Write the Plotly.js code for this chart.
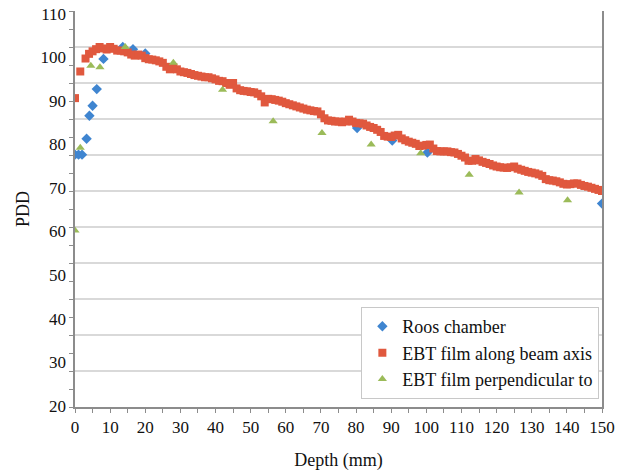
<!DOCTYPE html>
<html><head><meta charset="utf-8">
<script src="https://cdn.plot.ly/plotly-3.0.1.min.js"></script>
<style>html,body{margin:0;padding:0;background:#fff}#chart{width:618px;height:476px}</style>
</head><body><div id="chart"></div>
<script>
// Roos chamber (visible points)
const roosDepth = [0, 1, 2, 3.3, 4.1, 5, 6.2, 8.1, 13.6, 16.5, 20, 80.3, 90.3, 100.3, 150];
const roosPDD   = [70.1, 70.1, 70.1, 74.5, 80.9, 83.7, 88.3, 96.7, 100, 99.4, 98.2, 77.5, 74.0, 70.7, 56.5];

// EBT film along beam axis
const alongDepth = [0, 1.5, 3, 4, 5, 6, 7, 8, 9, 10, 11, 12, 13, 14, 15, 16, 17, 18, 19, 20,
  21, 22, 23, 24, 25, 26, 27, 28, 29, 30, 31, 32, 33, 34, 35, 36, 37, 38, 39, 40,
  41, 42, 43, 44, 45, 46, 47, 48, 49, 50, 51, 52, 53, 54, 55, 56, 57, 58, 59, 60,
  61, 62, 63, 64, 65, 66, 67, 68, 69, 70, 71, 72, 73, 74, 75, 76, 77, 78, 79, 80,
  81, 82, 83, 84, 85, 86, 87, 88, 89, 90, 91, 92, 93, 94, 95, 96, 97, 98, 99, 100,
  101, 102, 103, 104, 105, 106, 107, 108, 109, 110, 111, 112, 113, 114, 115, 116, 117, 118, 119, 120,
  121, 122, 123, 124, 125, 126, 127, 128, 129, 130, 131, 132, 133, 134, 135, 136, 137, 138, 139, 140,
  141, 142, 143, 144, 145, 146, 147, 148, 149, 150];
const alongPDD = [85.8, 93.2, 96.8, 98.1, 98.8, 99.4, 100.0, 99.6, 99.3, 100.0, 99.5, 99.0, 99.0, 98.8, 98.5, 97.9, 97.6, 97.9, 97.6, 96.9,
  96.6, 96.5, 96.3, 96.0, 95.6, 94.5, 93.8, 94.4, 93.8, 93.2, 93.0, 92.8, 92.5, 92.2, 92.0, 91.8, 91.6, 91.6, 91.3, 91.0,
  90.6, 90.5, 90.0, 89.5, 90.0, 88.5, 88.0, 87.8, 87.7, 87.5, 87.4, 87.0, 86.3, 84.6, 85.6, 85.5, 85.3, 85.1, 84.8, 84.4,
  84.1, 83.8, 83.5, 83.2, 82.9, 82.6, 82.4, 82.2, 82.1, 81.3, 80.2, 79.6, 79.5, 79.3, 79.3, 79.1, 79.3, 79.8, 79.3, 78.9,
  78.8, 78.7, 78.2, 77.8, 77.5, 77.0, 76.4, 75.3, 75.1, 75.0, 75.4, 75.6, 74.6, 74.1, 73.7, 73.4, 73.1, 72.5, 72.6, 72.8,
  72.9, 71.8, 71.1, 71.0, 71.0, 71.0, 70.8, 70.7, 70.3, 69.8, 69.3, 68.4, 68.4, 68.9, 68.5, 68.1, 67.8, 67.5, 67.1, 66.8,
  66.6, 66.5, 66.4, 66.6, 66.8, 66.2, 65.9, 65.6, 65.3, 65.1, 64.9, 64.6, 64.2, 63.3, 63.0, 62.9, 62.7, 62.4, 62.0, 61.8,
  61.9, 62.1, 62.1, 61.7, 61.4, 61.2, 60.9, 60.6, 60.3, 60.0];

// EBT film perpendicular to beam axis
const perpDepth = [0, 1.5, 4.5, 7.1, 14.3, 28, 42, 56.4, 70.3, 84.3, 98.4, 112.2, 126.4, 140.2];
const perpPDD   = [49.0, 72.0, 94.8, 94.4, 100.0, 95.6, 88.1, 79.4, 76.1, 72.9, 70.5, 64.5, 59.6, 57.4];

// tick labels as printed on the figure
const xTickVals = [0, 10, 20, 30, 40, 50, 60, 70, 80, 90, 100, 110, 120, 130, 140, 150];
const yLabelVals = [20, 30, 40, 50, 60, 70, 80, 90, 100, 110];
const yLabelText = ['20', '30', '40', '50', '60', '70', '80', '90', '100', '110'];

const AX = '#8c8c8c';
const FONT = 'Liberation Serif, Times New Roman, serif';
const TXT = {family: FONT, size: 17, color: '#111'};
const TXT18 = {family: FONT, size: 18, color: '#111'};

const traces = [
  {x: roosDepth, y: roosPDD, name: 'Roos chamber', type: 'scatter', mode: 'markers',
   marker: {symbol: 'diamond', size: 8, color: '#3f85d0'}},
  {x: alongDepth, y: alongPDD, name: 'EBT film along beam axis', type: 'scatter', mode: 'markers',
   marker: {symbol: 'square', size: 8, color: '#e0583e'}},
  {x: perpDepth, y: perpPDD, name: 'EBT film perpendicular to', type: 'scatter', mode: 'markers',
   marker: {symbol: 'triangle-up', size: 8, color: '#9bbb59'}},
  {x: [], y: [], yaxis: 'y2', type: 'scatter', mode: 'markers', showlegend: false, hoverinfo: 'skip'}
];

const layout = {
  width: 618, height: 476,
  margin: {l: 75, r: 16, t: 11, b: 69},
  paper_bgcolor: '#ffffff', plot_bgcolor: '#ffffff',
  font: TXT,
  showlegend: true,
  legend: {x: 0.995, y: 0.02, xanchor: 'right', yanchor: 'bottom', bgcolor: '#ffffff',
           bordercolor: '#c8c8c8', borderwidth: 1, font: TXT18,
           tracegroupgap: 0, itemwidth: 30},
  xaxis: {range: [0, 150], tickvals: xTickVals, ticks: 'outside', ticklen: 4, tickcolor: AX, tickwidth: 1,
          minor: {dtick: 5, ticks: 'outside', ticklen: 4, tickcolor: AX},
          showline: true, linecolor: AX, linewidth: 2, showgrid: false, zeroline: false,
          tickfont: TXT,
          title: {text: 'Depth (mm)', standoff: 17, font: TXT18},
          automargin: false, fixedrange: true},
  yaxis: {range: [0, 110], tick0: 0, dtick: 10, showticklabels: false, ticks: 'outside', ticklen: 4,
          tickcolor: AX, minor: {dtick: 5, ticks: 'outside', ticklen: 4, tickcolor: AX},
          showline: true, mirror: true, linecolor: AX, linewidth: 2,
          showgrid: true, gridcolor: '#d9d9d9', gridwidth: 1.5, zeroline: false,
          automargin: false, fixedrange: true},
  yaxis2: {overlaying: 'y', side: 'left', range: [19.7, 110.62], tickvals: yLabelVals, ticktext: yLabelText,
           ticks: '', showgrid: false, showline: false, zeroline: false, ticklabelstandoff: 8,
           tickfont: TXT,
           title: {text: 'PDD', standoff: 6, font: TXT18},
           automargin: false, fixedrange: true}
};

Plotly.newPlot('chart', traces, layout, {displayModeBar: false, staticPlot: true});
</script>
</body></html>
